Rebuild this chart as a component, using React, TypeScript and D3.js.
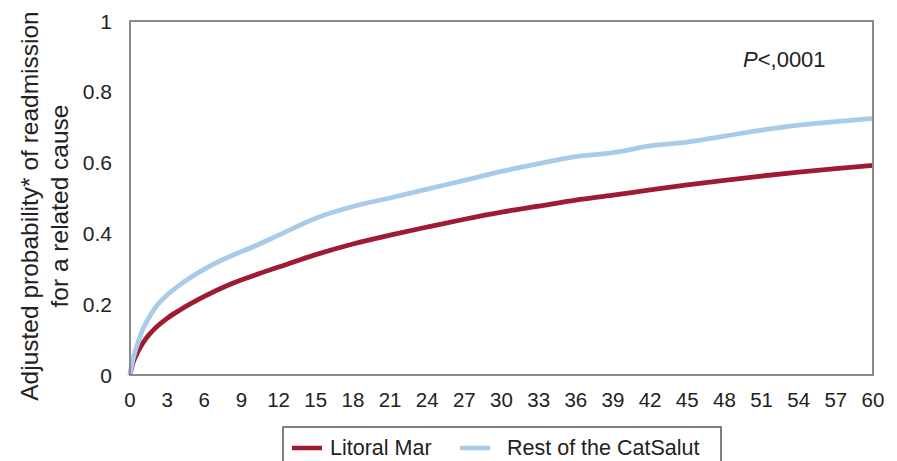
import React from "react";
import * as d3 from "d3";

// Follow-up time in months
const months = [0, 0.25, 0.5, 1, 1.5, 2, 3, 4, 6, 8, 10, 12, 15, 18, 21, 24, 27, 30, 33, 36, 39, 42, 45, 48, 51, 54, 57, 60];

// Adjusted cumulative probability of readmission for a related cause
const litoralMar = [0, 0.035, 0.056, 0.088, 0.112, 0.131, 0.16, 0.183, 0.222, 0.255, 0.281, 0.305, 0.34, 0.37, 0.395, 0.418, 0.44, 0.46, 0.477, 0.494, 0.508, 0.523, 0.537, 0.55, 0.562, 0.573, 0.583, 0.592];
const restCatSalut = [0, 0.045, 0.076, 0.126, 0.16, 0.188, 0.226, 0.254, 0.299, 0.334, 0.363, 0.395, 0.443, 0.476, 0.5, 0.525, 0.55, 0.575, 0.597, 0.617, 0.628, 0.647, 0.658, 0.675, 0.692, 0.706, 0.716, 0.725];

const xTicks = d3.range(0, 61, 3);
const yTicks = [0, 0.2, 0.4, 0.6, 0.8, 1];
const yTickLabels = ["0", "0.2", "0.4", "0.6", "0.8", "1"];

const seriesNames = ["Litoral Mar", "Rest of the CatSalut"];
const seriesColors = ["#9e1b32", "#a9cbea"];

const W = 897;
const H = 461;
const FONT = "'Liberation Sans', Arial, sans-serif";

export default function App() {
  const x = d3.scaleLinear().domain([0, 60]).range([130, 873]);
  const y = d3.scaleLinear().domain([0, 1]).range([375, 21]);

  const line = d3
    .line<[number, number]>()
    .x((d) => x(d[0]))
    .y((d) => y(d[1]))
    .curve(d3.curveMonotoneX);

  const series = [litoralMar, restCatSalut].map((vals) =>
    months.map((m, i) => [m, vals[i]] as [number, number])
  );

  const titleCx = 44;
  const titleCy = 206;

  return (
    <svg
      width={W}
      height={H}
      style={{ position: "absolute", left: 0, top: 0, background: "#fff" }}
      fontFamily={FONT}
    >
      {/* y tick labels */}
      {yTicks.map((t, i) => (
        <text
          key={"yt" + t}
          x={112}
          y={y(t)}
          dy="0.36em"
          textAnchor="end"
          fontSize={21}
          fill="#222"
        >
          {yTickLabels[i]}
        </text>
      ))}

      {/* x tick labels */}
      {xTicks.map((t) => (
        <text
          key={"xt" + t}
          x={x(t)}
          y={407}
          textAnchor="middle"
          fontSize={20.5}
          fill="#222"
        >
          {t}
        </text>
      ))}

      {/* y axis title */}
      <g transform={`translate(${titleCx},${titleCy}) rotate(-90)`}>
        <text x={0} y={-6} textAnchor="middle" fontSize={24.5} fill="#222">
          Adjusted probability* of readmission
        </text>
        <text x={0} y={24} textAnchor="middle" fontSize={24.5} fill="#222">
          for a related cause
        </text>
      </g>

      {/* curves */}
      {series.map((s, i) => (
        <path
          key={"s" + i}
          d={line(s) || ""}
          fill="none"
          stroke={seriesColors[i]}
          strokeWidth={4.8}
          strokeLinejoin="round"
        />
      ))}

      {/* plot frame */}
      <rect
        x={x(0)}
        y={y(1)}
        width={x(60) - x(0)}
        height={y(0) - y(1)}
        fill="none"
        stroke="#8a8a8a"
        strokeWidth={2}
      />

      {/* p-value */}
      <text x={743} y={67} fontSize={22} fill="#222">
        <tspan fontStyle="italic">P</tspan>
        <tspan>{"<,0001"}</tspan>
      </text>

      {/* legend */}
      <rect x={283} y={427} width={438} height={44} fill="#fff" stroke="#555" strokeWidth={1.5} />
      <line x1={292} x2={322} y1={448} y2={448} stroke={seriesColors[0]} strokeWidth={4.5} />
      <text x={330} y={455} fontSize={21.5} fill="#222">
        {seriesNames[0]}
      </text>
      <line x1={460} x2={490} y1={448} y2={448} stroke={seriesColors[1]} strokeWidth={4.5} />
      <text x={507} y={455} fontSize={21.5} fill="#222">
        {seriesNames[1]}
      </text>
    </svg>
  );
}
